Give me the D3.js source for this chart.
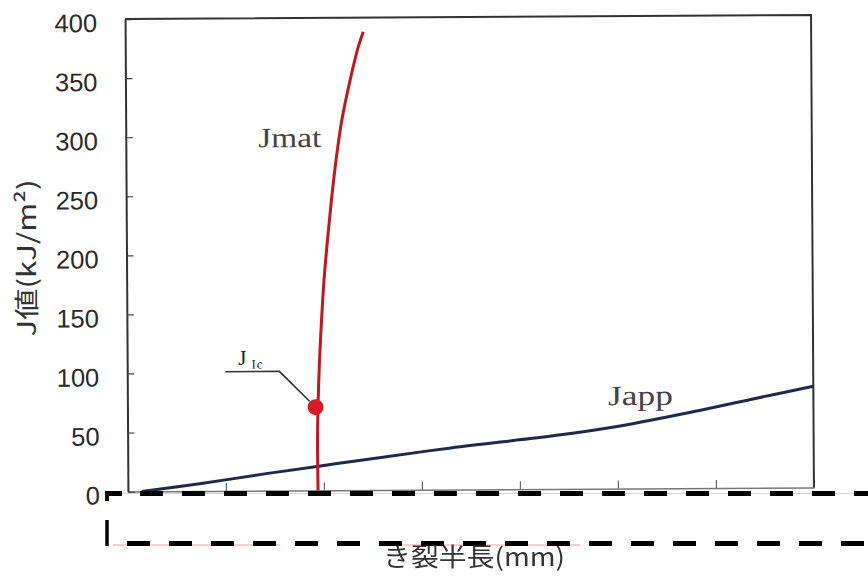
<!DOCTYPE html>
<html>
<head>
<meta charset="utf-8">
<script src="https://cdn.jsdelivr.net/npm/d3@7"></script>
<style>
  body { margin: 0; background: #fff; }
  svg { display: block; }
</style>
</head>
<body>
<svg id="chart" width="868" height="578"></svg>
<script>
// ---- data ----
const yTickValues = [0, 50, 100, 150, 200, 250, 300, 350, 400];
const yTickLabels = ["0", "50", "100", "150", "200", "250", "300", "350", "400"];
const xTickValues = [0, 10, 20, 30, 40, 50, 60, 70];

// material resistance curve (crack half length mm, J kJ/m2)
const jmatCrack = [19.4, 19.38, 19.45, 19.63, 19.86, 20.14, 20.52, 20.95, 21.45, 22.05, 22.95, 23.7, 24.3];
const jmatJ     = [0, 42.5, 71.4, 110, 144, 178, 212, 246, 280, 313, 348, 373, 388];

// applied J curve
const jappCrack = [1.4, 7.5, 14.3, 19.5, 23.8, 33.0, 44.2, 50.4, 57.8, 63.6, 70];
const jappJ     = [0, 6.5, 14.7, 20.5, 25.4, 35.3, 45.8, 53.2, 64.8, 74.8, 85.6];

// initiation point J_Ic
const jicCrack = 19.2;
const jicJ = 70.5;

const seriesNames = ["Jmat", "Japp"];
const yTitle = "J値(kJ/m²)";
const xTitle = "き裂半長(mm)";

// ---- layout ----
const W = 868, H = 578;
const x = d3.scaleLinear().domain([0, 70]).range([126.5, 812.5]);
const y = d3.scaleLinear().domain([0, 400]).range([489.5, 17]);

const svg = d3.select("#chart");
svg.append("rect").attr("width", W).attr("height", H).attr("fill", "#fff");

// the whole plot sits at a very slight tilt
const g = svg.append("g").attr("transform", "rotate(-0.35,470,255)");

// bottom axis (inward ticks, no labels)
const xAxis = g.append("g")
  .attr("transform", `translate(0,${y(0)})`)
  .call(d3.axisBottom(x).tickValues(xTickValues).tickSize(-8).tickSizeOuter(0).tickFormat(() => ""));
xAxis.select(".domain").attr("stroke", "#777").attr("stroke-width", 1.5);
xAxis.selectAll(".tick line").attr("stroke", "#666").attr("stroke-width", 1.2);

// left axis
const yAxis = g.append("g")
  .attr("transform", `translate(${x(0)},0)`)
  .call(d3.axisLeft(y).tickValues(yTickValues).tickFormat((d, i) => yTickLabels[i])
    .tickSize(-7).tickSizeOuter(0).tickPadding(28));
yAxis.select(".domain").attr("stroke", "#333").attr("stroke-width", 2);
yAxis.selectAll(".tick line").attr("stroke", "#444").attr("stroke-width", 1.2);
yAxis.selectAll(".tick text")
  .attr("font-family", "'Liberation Sans', Arial, sans-serif")
  .attr("font-size", 25.5)
  .attr("fill", "#2a2a2a")
  .attr("dy", "0.48em");

// top and right frame
g.append("path")
  .attr("d", `M${x(0)},${y(400)}H${x(70)}V${y(0)}`)
  .attr("fill", "none").attr("stroke", "#333").attr("stroke-width", 2);

// curves
const line = d3.line().x(d => x(d[0])).y(d => y(d[1])).curve(d3.curveCatmullRom);

g.append("path")
  .datum(jappCrack.map((c, i) => [c, jappJ[i]]))
  .attr("d", line)
  .attr("fill", "none").attr("stroke", "#1d2a4d").attr("stroke-width", 3);

g.append("path")
  .datum(jmatCrack.map((c, i) => [c, jmatJ[i]]))
  .attr("d", line)
  .attr("fill", "none").attr("stroke", "#c3161f").attr("stroke-width", 3);

// J_Ic marker with leader
const px = x(jicCrack), py = y(jicJ);
g.append("path")
  .attr("d", `M${px - 90},${py - 36}H${px - 36}L${px - 6},${py - 6}`)
  .attr("fill", "none").attr("stroke", "#333").attr("stroke-width", 1.6);
g.append("circle").attr("cx", px).attr("cy", py).attr("r", 8).attr("fill", "#d71d2a");

const jic = g.append("text")
  .attr("x", px - 77).attr("y", py - 43)
  .attr("font-family", "'Liberation Serif', serif")
  .attr("fill", "#222");
jic.append("tspan").attr("font-size", 21).text("J");
jic.append("tspan").attr("font-size", 13).attr("dy", 4).attr("dx", 5).attr("letter-spacing", 1).text("Ic");

// series labels
const serif = "'Liberation Serif', 'DejaVu Serif', serif";
g.append("text").attr("x", 259).attr("y", 146)
  .attr("font-family", serif).attr("font-size", 28).attr("fill", "#444")
  .attr("textLength", 63).attr("lengthAdjust", "spacingAndGlyphs")
  .text(seriesNames[0]);
g.append("text").attr("x", 607).attr("y", 406)
  .attr("font-family", serif).attr("font-size", 28).attr("fill", "#444")
  .attr("textLength", 65).attr("lengthAdjust", "spacingAndGlyphs")
  .text(seriesNames[1]);

// axis titles
const jp = "'Noto Sans CJK JP', 'Noto Sans', sans-serif";
svg.append("text")
  .attr("transform", "translate(25,258) rotate(-90)")
  .attr("text-anchor", "middle").attr("dominant-baseline", "central")
  .attr("font-family", jp).attr("font-size", 25).attr("fill", "#333")
  .attr("textLength", 157).attr("lengthAdjust", "spacingAndGlyphs")
  .text(yTitle);

// dashed frame drawn over the bottom strip
const red = svg.append("g").attr("stroke", "#e07a7a").attr("stroke-width", 1.2).attr("opacity", 0.7);
red.append("line").attr("x1", 122).attr("x2", 868).attr("y1", 493.5).attr("y2", 493.5).attr("opacity", 0.6);
red.append("line").attr("x1", 113).attr("x2", 280).attr("y1", 545).attr("y2", 545);
red.append("line").attr("x1", 378).attr("x2", 580).attr("y1", 545).attr("y2", 545);

const dash = svg.append("g").attr("stroke", "#000").attr("fill", "none");
dash.append("line").attr("x1", 140).attr("x2", 868).attr("y1", 493.5).attr("y2", 493.5)
  .attr("stroke-width", 5).attr("stroke-dasharray", "23 19");
dash.append("line").attr("x1", 127).attr("x2", 868).attr("y1", 543.5).attr("y2", 543.5)
  .attr("stroke-width", 5).attr("stroke-dasharray", "23 19");
dash.append("path").attr("d", "M105,493.5H122").attr("stroke-width", 5);
dash.append("path").attr("d", "M107,491V501").attr("stroke-width", 4);
dash.append("path").attr("d", "M107,520V546").attr("stroke-width", 3.5);

svg.append("text")
  .attr("x", 474).attr("y", 566)
  .attr("text-anchor", "middle")
  .attr("font-family", jp).attr("font-size", 25).attr("fill", "#333")
  .attr("textLength", 182).attr("lengthAdjust", "spacingAndGlyphs")
  .text(xTitle);
</script>
</body>
</html>
